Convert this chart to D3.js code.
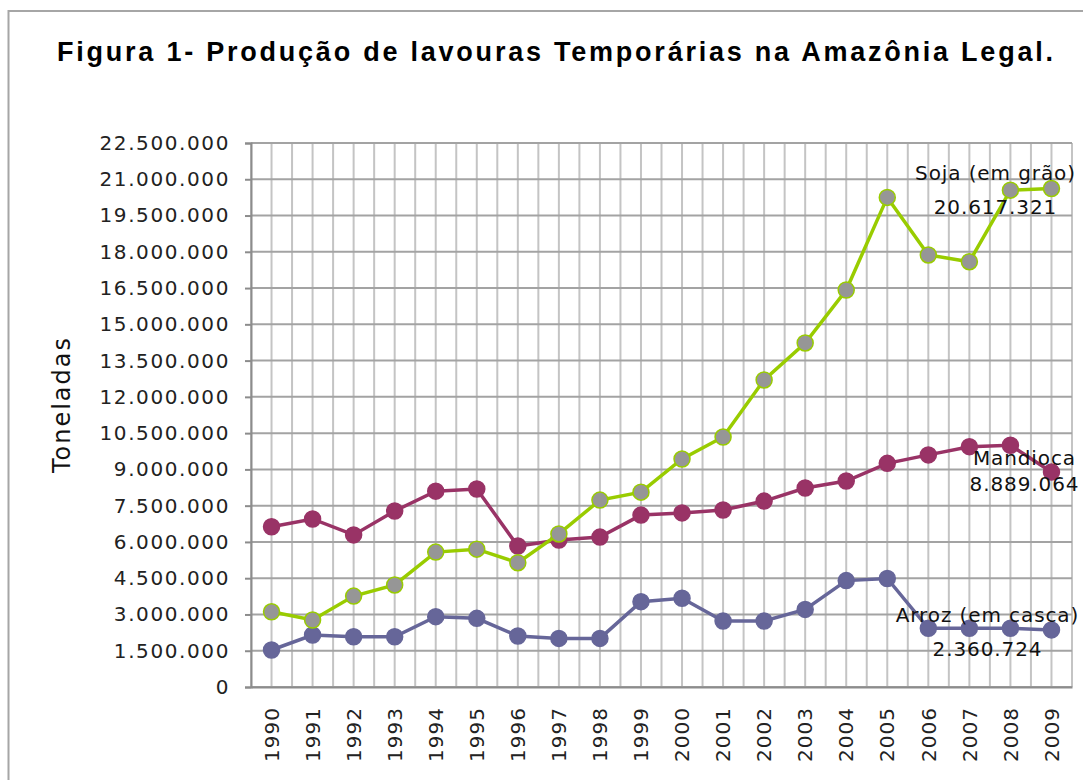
<!DOCTYPE html>
<html><head><meta charset="utf-8">
<script src="https://cdn.jsdelivr.net/npm/d3@7"></script>
<style>
html,body{margin:0;padding:0;background:#fff;}
svg{display:block;}
</style></head>
<body>
<svg id="chart" width="1083" height="780"></svg>
<script>
const years = ["1990","1991","1992","1993","1994","1995","1996","1997","1998","1999","2000","2001","2002","2003","2004","2005","2006","2007","2008","2009"];
const soja = [3110000, 2770000, 3760000, 4220000, 5580000, 5700000, 5140000, 6330000, 7730000, 8060000, 9430000, 10340000, 12700000, 14230000, 16420000, 20250000, 17870000, 17590000, 20550000, 20617321];
const mandioca = [6630000, 6950000, 6290000, 7280000, 8100000, 8190000, 5830000, 6080000, 6200000, 7110000, 7200000, 7320000, 7690000, 8230000, 8520000, 9250000, 9600000, 9940000, 10000000, 8889064];
const arroz = [1530000, 2150000, 2080000, 2080000, 2910000, 2840000, 2110000, 2010000, 2010000, 3530000, 3670000, 2730000, 2730000, 3210000, 4400000, 4490000, 2430000, 2430000, 2430000, 2360724];
const yTicks = [0,1500000,3000000,4500000,6000000,7500000,9000000,10500000,12000000,13500000,15000000,16500000,18000000,19500000,21000000,22500000];
const seriesNames = ["Arroz (em casca)", "Mandioca", "Soja (em grão)"];
const titleText = "Figura 1- Produção de lavouras Temporárias na Amazônia Legal.";
const yTitle = "Toneladas";

const svg = d3.select("#chart");
const W = 1083, H = 780;
const m = {left: 251, top: 143, right: 1072, bottom: 687};

const locale = d3.formatLocale({decimal: ",", thousands: ".", grouping: [3], currency: ["", ""]});
const fmt = locale.format(",");

// outer border
svg.append("rect").attr("x", 8.5).attr("y", 11).attr("width", W + 20).attr("height", H + 20)
  .attr("fill", "#fff").attr("stroke", "#a6a6a6").attr("stroke-width", 2);

// title
svg.append("text").attr("x", 57).attr("y", 61)
  .attr("font-family", "Liberation Sans, Arial, sans-serif").attr("font-weight", "bold")
  .attr("font-size", 27).attr("fill", "#000")
  .attr("textLength", 996).attr("lengthAdjust", "spacing")
  .text(titleText);

const x = d3.scaleBand().domain(years).range([m.left, m.right]).paddingInner(0).paddingOuter(0);
const y = d3.scaleLinear().domain([0, 22500000]).range([m.bottom, m.top]);
const cx = d => x(d) + x.bandwidth() / 2;

const g = svg.append("g");

// vertical gridlines at category boundaries and centers
const vx = [];
years.forEach(yr => { vx.push(x(yr)); vx.push(cx(yr)); });
vx.push(m.right);
g.selectAll(".vg").data(vx).enter().append("line")
  .attr("x1", d => d).attr("x2", d => d).attr("y1", m.top).attr("y2", m.bottom)
  .attr("stroke", "#c4c4c4").attr("stroke-width", 2);

// horizontal gridlines
g.selectAll(".hg").data(yTicks).enter().append("line")
  .attr("x1", m.left).attr("x2", m.right).attr("y1", d => y(d)).attr("y2", d => y(d))
  .attr("stroke", "#a3a3a3").attr("stroke-width", 2);

// y axis
const yAxis = d3.axisLeft(y).tickValues(yTicks).tickFormat(fmt).tickSize(6).tickPadding(15);
const ya = svg.append("g").attr("transform", `translate(${m.left},0)`).call(yAxis);
ya.select(".domain").attr("stroke", "#8c8c8c").attr("stroke-width", 2);
ya.selectAll(".tick line").attr("stroke", "#8c8c8c").attr("stroke-width", 2);
ya.selectAll(".tick text").attr("font-family", "DejaVu Sans, sans-serif").attr("font-size", 20)
  .attr("letter-spacing", "1.6px").attr("fill", "#222");

// x axis
const xAxis = d3.axisBottom(x).tickSize(0).tickPadding(0);
const xa = svg.append("g").attr("transform", `translate(0,${m.bottom})`).call(xAxis);
xa.select(".domain").attr("stroke", "#8c8c8c").attr("stroke-width", 2);
xa.selectAll(".tick text")
  .attr("font-family", "DejaVu Sans, sans-serif").attr("font-size", 20)
  .attr("letter-spacing", "1px").attr("fill", "#222")
  .attr("text-anchor", "end")
  .attr("transform", "translate(0,20) rotate(-90)")
  .attr("x", 0).attr("y", 0).attr("dy", "0.36em");

// y title
svg.append("text")
  .attr("transform", `translate(70,${(338 + 473) / 2}) rotate(-90)`)
  .attr("text-anchor", "middle")
  .attr("font-family", "DejaVu Sans, sans-serif").attr("font-size", 24)
  .attr("textLength", 135).attr("lengthAdjust", "spacing")
  .attr("fill", "#111")
  .text(yTitle);

const series = [
  {name: seriesNames[0], values: arroz, line: "#666699", fill: "#666699", stroke: "#666699"},
  {name: seriesNames[1], values: mandioca, line: "#993366", fill: "#993366", stroke: "#993366"},
  {name: seriesNames[2], values: soja, line: "#99cc00", fill: "#969696", stroke: "#99cc00"}
];

const line = d3.line().x((d, i) => cx(years[i])).y(d => y(d));
series.forEach(s => {
  const sg = svg.append("g");
  sg.append("path").datum(s.values).attr("d", line)
    .attr("fill", "none").attr("stroke", s.line).attr("stroke-width", 3.5);
  sg.selectAll("circle").data(s.values).enter().append("circle")
    .attr("cx", (d, i) => cx(years[i])).attr("cy", d => y(d)).attr("r", 8)
    .attr("fill", s.fill).attr("stroke", s.stroke).attr("stroke-width", 1.5);
});

// data labels at the last point
const last = years.length - 1;
const labels = [
  {name: seriesNames[2], value: soja[last], dx: -56, dy1: -16, dy2: 18},
  {name: seriesNames[1], value: mandioca[last], dx: -27, dy1: -14, dy2: 12},
  {name: seriesNames[0], value: arroz[last], dx: -64, dy1: -15, dy2: 19}
];
labels.forEach(l => {
  const px = cx(years[last]), py = y(l.value);
  const t = svg.append("text").attr("text-anchor", "middle")
    .attr("font-family", "DejaVu Sans, sans-serif").attr("font-size", 20)
    .attr("letter-spacing", "0.9px").attr("fill", "#111");
  t.append("tspan").attr("x", px + l.dx).attr("y", py + l.dy1 + 7).text(l.name);
  t.append("tspan").attr("x", px + l.dx).attr("y", py + l.dy2 + 7).text(fmt(l.value));
});
</script>
</body></html>
